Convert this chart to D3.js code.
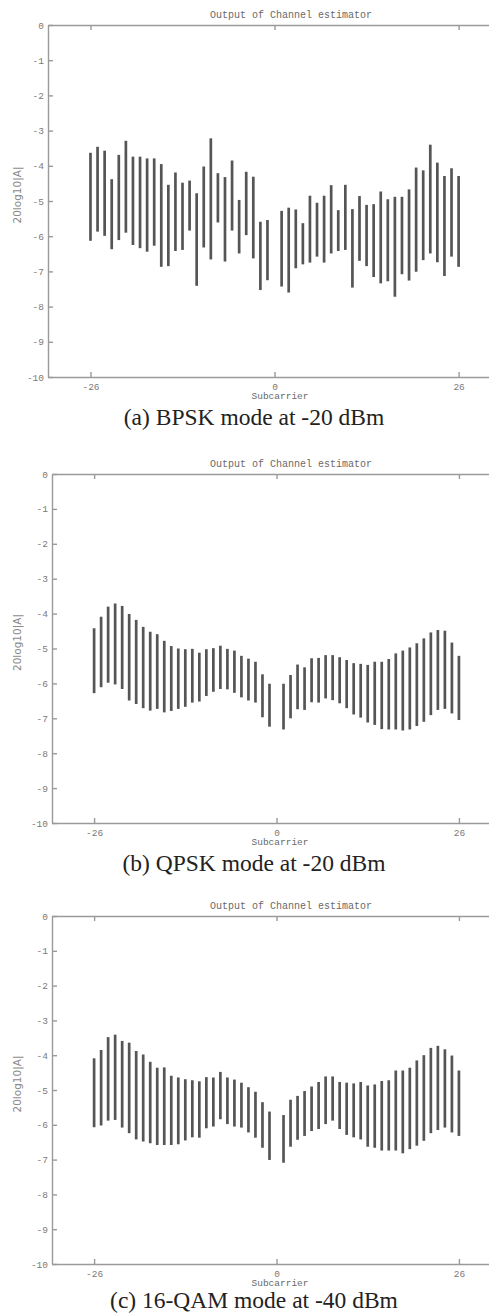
<!DOCTYPE html>
<html lang="en">
<head>
  <meta charset="UTF-8" />
  <title>Output of Channel estimator</title>
  <script src="https://d3js.org/d3.v7.min.js"></script>
  <style>
    body {
      margin: 0;
      padding: 0;
      background: #fff;
      overflow: hidden;
    }
    svg { display: block; }
    .axis path, .axis line {
      stroke: #9a9a9a;
      stroke-width: 1.4px;
    }
    .axis text {
      font-family: "Liberation Mono", "DejaVu Sans Mono", monospace;
      font-size: 9.5px;
      fill: #7a7a7a;
    }
    .title, .xlabel {
      font-family: "Liberation Mono", "DejaVu Sans Mono", monospace;
      fill: #6a6a6a;
    }
    .title { font-size: 10px; }
    .xlabel { font-size: 9.5px; }
    .ylabel {
      font-family: "DejaVu Sans", sans-serif;
      font-size: 10.5px;
      fill: #8a8a8a;
    }
    .caption {
      font-family: "Liberation Serif", "Times New Roman", serif;
      font-size: 23.5px;
      fill: #222;
    }
    .bar {
      stroke: #555;
      stroke-width: 2.7px;
    }
  </style>
</head>
<body>
  <svg width="489" height="1313"></svg>

  <script>
    // subcarrier indices (DC carrier 0 is not used)
    const subcarriers = [-26, -25, -24, -23, -22, -21, -20, -19, -18, -17, -16, -15, -14,
      -13, -12, -11, -10, -9, -8, -7, -6, -5, -4, -3, -2, -1,
      1, 2, 3, 4, 5, 6, 7, 8, 9, 10, 11, 12, 13, 14, 15, 16, 17, 18, 19, 20,
      21, 22, 23, 24, 25, 26];

    // (a) BPSK at -20 dBm : max / min of 20log10|A|
    const bpskTop = [-3.63, -3.46, -3.57, -4.38, -3.69, -3.29, -3.74, -3.74, -3.79, -3.79, -3.95, -4.54, -4.19,
      -4.48, -4.42, -4.78, -4.02, -3.22, -4.21, -4.32, -3.85, -4.97, -4.17, -4.31, -5.59, -5.54,
      -5.28, -5.19, -5.24, -5.63, -4.85, -5.05, -4.85, -4.55, -5.26, -4.54, -5.23, -4.86, -5.11,
      -5.09, -4.73, -4.95, -4.88, -4.88, -4.67, -4.05, -4.13, -3.40, -3.91, -4.29, -4.07, -4.29];
    const bpskBottom = [-6.13, -5.87, -5.99, -6.37, -6.11, -5.90, -6.25, -6.34, -6.44, -6.27, -6.87, -6.85, -6.42,
      -6.39, -5.84, -7.41, -6.32, -6.66, -5.61, -6.72, -5.84, -6.49, -5.97, -6.63, -7.53, -7.25,
      -7.43, -7.60, -6.91, -6.80, -6.75, -6.58, -6.75, -6.49, -6.42, -6.39, -7.46, -6.70, -6.85,
      -7.16, -7.34, -7.28, -7.72, -7.08, -7.26, -7.01, -6.68, -6.49, -6.74, -7.13, -6.58, -6.87];

    // (b) QPSK at -20 dBm
    const qpskTop = [-4.42, -4.09, -3.80, -3.71, -3.78, -4.01, -4.18, -4.38, -4.52, -4.59, -4.78, -4.93, -5.00,
      -5.02, -5.01, -5.12, -5.02, -4.99, -4.92, -5.01, -5.06, -5.21, -5.29, -5.38, -5.74, -6.01,
      -6.01, -5.76, -5.46, -5.54, -5.28, -5.27, -5.19, -5.19, -5.25, -5.33, -5.42, -5.44, -5.47,
      -5.38, -5.38, -5.30, -5.14, -5.06, -4.97, -4.85, -4.71, -4.54, -4.47, -4.49, -4.83, -5.21];
    const qpskBottom = [-6.28, -6.11, -5.98, -6.03, -6.16, -6.49, -6.59, -6.71, -6.78, -6.73, -6.83, -6.79, -6.73,
      -6.67, -6.55, -6.52, -6.36, -6.24, -6.16, -6.17, -6.27, -6.40, -6.49, -6.55, -6.97, -7.24,
      -7.32, -7.00, -6.74, -6.76, -6.54, -6.55, -6.43, -6.48, -6.57, -6.71, -6.89, -6.98, -7.12,
      -7.19, -7.31, -7.32, -7.32, -7.35, -7.32, -7.22, -7.10, -6.91, -6.76, -6.73, -6.86, -7.05];

    // (c) 16-QAM at -40 dBm
    const qamTop = [-4.09, -3.85, -3.48, -3.41, -3.59, -3.64, -3.88, -3.98, -4.19, -4.36, -4.35, -4.59, -4.64,
      -4.69, -4.72, -4.75, -4.63, -4.64, -4.48, -4.64, -4.70, -4.79, -4.92, -5.05, -5.35, -5.62,
      -5.72, -5.28, -5.17, -5.03, -4.90, -4.77, -4.61, -4.61, -4.77, -4.79, -4.81, -4.77, -4.87,
      -4.84, -4.74, -4.72, -4.44, -4.44, -4.36, -4.15, -4.00, -3.79, -3.73, -3.83, -4.01, -4.44];
    const qamBottom = [-6.07, -6.02, -5.88, -5.86, -6.08, -6.24, -6.42, -6.48, -6.53, -6.58, -6.58, -6.58, -6.56,
      -6.45, -6.36, -6.37, -6.10, -6.05, -5.84, -5.98, -6.05, -6.08, -6.22, -6.37, -6.66, -7.01,
      -7.09, -6.63, -6.43, -6.32, -6.18, -6.12, -5.98, -5.88, -6.12, -6.29, -6.36, -6.42, -6.63,
      -6.66, -6.74, -6.74, -6.74, -6.82, -6.70, -6.60, -6.46, -6.24, -6.15, -6.08, -6.22, -6.32];

    const yTicks = [0, -1, -2, -3, -4, -5, -6, -7, -8, -9, -10];
    const xTicks = [-26, 0, 26];

    const panels = [
      { top: bpskTop, bottom: bpskBottom, caption: "(a) BPSK mode at -20 dBm", capDy: 48,
        box: { left: 48, right: 494, top: 25, bottom: 377 } },
      { top: qpskTop, bottom: qpskBottom, caption: "(b) QPSK mode at -20 dBm", capDy: 48,
        box: { left: 52, right: 494, top: 474, bottom: 823 } },
      { top: qamTop, bottom: qamBottom, caption: "(c) 16-QAM mode at -40 dBm", capDy: 44,
        box: { left: 52, right: 494, top: 916, bottom: 1264 } }
    ];

    const svg = d3.select("svg");

    panels.forEach(p => {
      const b = p.box;
      const x = d3.scaleLinear().domain([-32, 31]).range([b.left, b.right]);
      const y = d3.scaleLinear().domain([-10, 0]).range([b.bottom, b.top]);
      const g = svg.append("g");

      g.append("text")
        .attr("class", "title")
        .attr("x", 291)
        .attr("y", b.top - 7)
        .attr("text-anchor", "middle")
        .text("Output of Channel estimator");

      // axes, ticks pointing inward like matlab
      g.append("g").attr("class", "axis")
        .attr("transform", `translate(${b.left},0)`)
        .call(d3.axisLeft(y).tickValues(yTicks)
          .tickFormat(d => d < 0 ? "-" + Math.abs(d) : "0")
          .tickSizeInner(-5).tickSizeOuter(0).tickPadding(4));

      g.append("g").attr("class", "axis")
        .attr("transform", `translate(${b.right},0)`)
        .call(d3.axisRight(y).tickValues(yTicks).tickFormat("")
          .tickSizeInner(-5).tickSizeOuter(0));

      g.append("g").attr("class", "axis")
        .attr("transform", `translate(0,${b.bottom})`)
        .call(d3.axisBottom(x).tickValues(xTicks)
          .tickFormat(d => d < 0 ? "-" + Math.abs(d) : String(d))
          .tickSizeInner(-5).tickSizeOuter(0).tickPadding(6));

      g.append("g").attr("class", "axis")
        .attr("transform", `translate(0,${b.top})`)
        .call(d3.axisTop(x).tickValues(xTicks).tickFormat("")
          .tickSizeInner(-5).tickSizeOuter(0));

      g.selectAll(".axis .domain").attr("fill", "none");

      g.append("text")
        .attr("class", "xlabel")
        .attr("x", 280)
        .attr("y", b.bottom + 22)
        .attr("text-anchor", "middle")
        .text("Subcarrier");

      g.append("text")
        .attr("class", "ylabel")
        .attr("transform", `translate(21,${(b.top + b.bottom) / 2 - 6}) rotate(-90)`)
        .attr("text-anchor", "middle")
        .text("20log10|A|");

      g.selectAll("line.bar")
        .data(subcarriers)
        .enter().append("line")
        .attr("class", "bar")
        .attr("x1", d => x(d))
        .attr("x2", d => x(d))
        .attr("y1", (d, i) => y(p.top[i]))
        .attr("y2", (d, i) => y(p.bottom[i]));

      g.append("text")
        .attr("class", "caption")
        .attr("x", 254)
        .attr("y", b.bottom + p.capDy)
        .attr("text-anchor", "middle")
        .text(p.caption);
    });
  </script>
</body>
</html>
